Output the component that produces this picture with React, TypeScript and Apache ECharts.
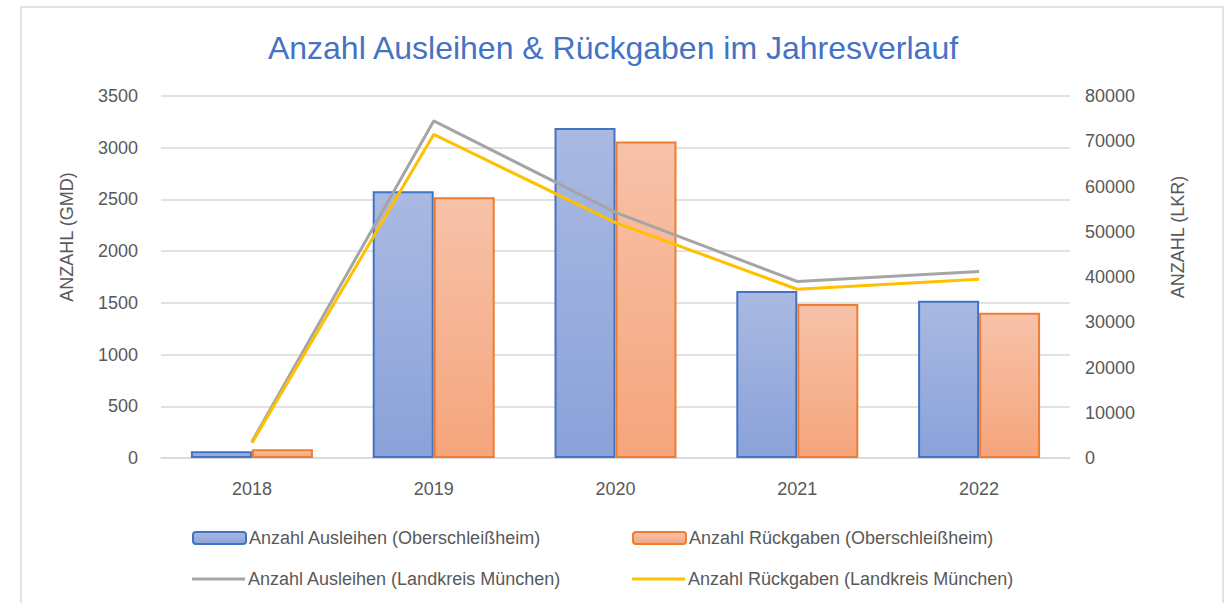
import React, { useEffect, useRef } from "react";
import * as echarts from "echarts";

const categories = ["2018", "2019", "2020", "2021", "2022"];
const ausleihenOSH = [65, 2580, 3190, 1615, 1520];
const rueckgabenOSH = [85, 2520, 3060, 1490, 1405];
const ausleihenLKR = [3600, 74500, 54300, 39000, 41200];
const rueckgabenLKR = [3300, 71500, 52000, 37300, 39500];

const names = [
  "Anzahl Ausleihen (Oberschleißheim)",
  "Anzahl Rückgaben (Oberschleißheim)",
  "Anzahl Ausleihen (Landkreis München)",
  "Anzahl Rückgaben (Landkreis München)",
];

const FONT = "Liberation Sans";
const GREY = "#595959";

export default function App() {
  const ref = useRef<HTMLDivElement>(null);
  useEffect(() => {
    if (!ref.current) return;
    const chart = echarts.init(ref.current, undefined, { renderer: "svg" });
    const legendBase = {
      itemWidth: 53,
      itemHeight: 12,
      itemGap: 0,
      padding: 0,
      textStyle: { color: GREY, fontSize: 18, fontFamily: FONT, padding: [0, 0, 0, -2] },
    };
    chart.setOption({
      animation: false,
      backgroundColor: "#fff",
      textStyle: { fontFamily: FONT },
      title: {
        text: "Anzahl Ausleihen & Rückgaben im Jahresverlauf",
        left: "center",
        top: 27,
        textStyle: { color: "#4472C4", fontSize: 32, fontWeight: "normal", fontFamily: FONT },
      },
      graphic: [
        {
          type: "rect",
          shape: { x: 21, y: 7, width: 1202, height: 640 },
          style: { fill: "none", stroke: "#D9D9D9", lineWidth: 1.5 },
          silent: true,
        },
        {
          type: "text",
          x: 67,
          y: 237,
          rotation: Math.PI / 2,
          style: {
            text: "ANZAHL (GMD)",
            fill: GREY,
            fontSize: 18,
            fontFamily: FONT,
            textAlign: "center",
            textVerticalAlign: "middle",
          },
        },
        {
          type: "text",
          x: 1178,
          y: 237,
          rotation: Math.PI / 2,
          style: {
            text: "ANZAHL (LKR)",
            fill: GREY,
            fontSize: 18,
            fontFamily: FONT,
            textAlign: "center",
            textVerticalAlign: "middle",
          },
        },
      ],
      legend: [
        { ...legendBase, data: [names[0]], left: 192, top: 529 },
        { ...legendBase, data: [names[1]], left: 632, top: 529 },
        { ...legendBase, data: [{ name: names[2], icon: "rect" }], itemHeight: 3, left: 192, top: 570 },
        { ...legendBase, data: [{ name: names[3], icon: "rect" }], itemHeight: 3, left: 632, top: 570 },
      ],
      grid: { left: 161, right: 156, top: 96, bottom: 145 },
      xAxis: {
        type: "category",
        data: categories,
        axisTick: { show: false },
        axisLine: { lineStyle: { color: "#D9D9D9", width: 1.5 } },
        axisLabel: { color: GREY, fontSize: 18, fontFamily: FONT, margin: 22 },
      },
      yAxis: [
        {
          type: "value",
          min: 0,
          max: 3500,
          interval: 500,
          axisLine: { show: false },
          axisTick: { show: false },
          axisLabel: { color: GREY, fontSize: 18, fontFamily: FONT, margin: 23, formatter: (v: number) => String(v) },
          splitLine: { lineStyle: { color: "#D9D9D9", width: 1.5 } },
        },
        {
          type: "value",
          min: 0,
          max: 80000,
          interval: 10000,
          position: "right",
          axisLine: { show: false },
          axisTick: { show: false },
          axisLabel: { color: GREY, fontSize: 18, fontFamily: FONT, margin: 15, formatter: (v: number) => String(v) },
          splitLine: { show: false },
        },
      ],
      series: [
        {
          name: names[0],
          type: "bar",
          data: ausleihenOSH,
          barWidth: 61,
          barGap: "0%",
          itemStyle: {
            color: new echarts.graphic.LinearGradient(0, 0, 0, 1, [
              { offset: 0, color: "#AAB9E1" },
              { offset: 1, color: "#8AA2DA" },
            ]),
            borderColor: "#4472C4",
            borderWidth: 2,
          },
        },
        {
          name: names[1],
          type: "bar",
          data: rueckgabenOSH,
          barWidth: 61,
          barGap: "0%",
          itemStyle: {
            color: new echarts.graphic.LinearGradient(0, 0, 0, 1, [
              { offset: 0, color: "#F7C2A9" },
              { offset: 1, color: "#F5A57C" },
            ]),
            borderColor: "#ED7D31",
            borderWidth: 2,
          },
        },
        {
          name: names[2],
          type: "line",
          yAxisIndex: 1,
          data: ausleihenLKR,
          symbol: "none",
          lineStyle: { color: "#A5A5A5", width: 3 },
          itemStyle: { color: "#A5A5A5" },
        },
        {
          name: names[3],
          type: "line",
          yAxisIndex: 1,
          data: rueckgabenLKR,
          symbol: "none",
          lineStyle: { color: "#FFC000", width: 3 },
          itemStyle: { color: "#FFC000" },
        },
      ],
    });
    return () => chart.dispose();
  }, []);
  return (
    <div
      ref={ref}
      style={{ position: "fixed", left: 0, top: 0, width: 1226, height: 603 }}
    />
  );
}
